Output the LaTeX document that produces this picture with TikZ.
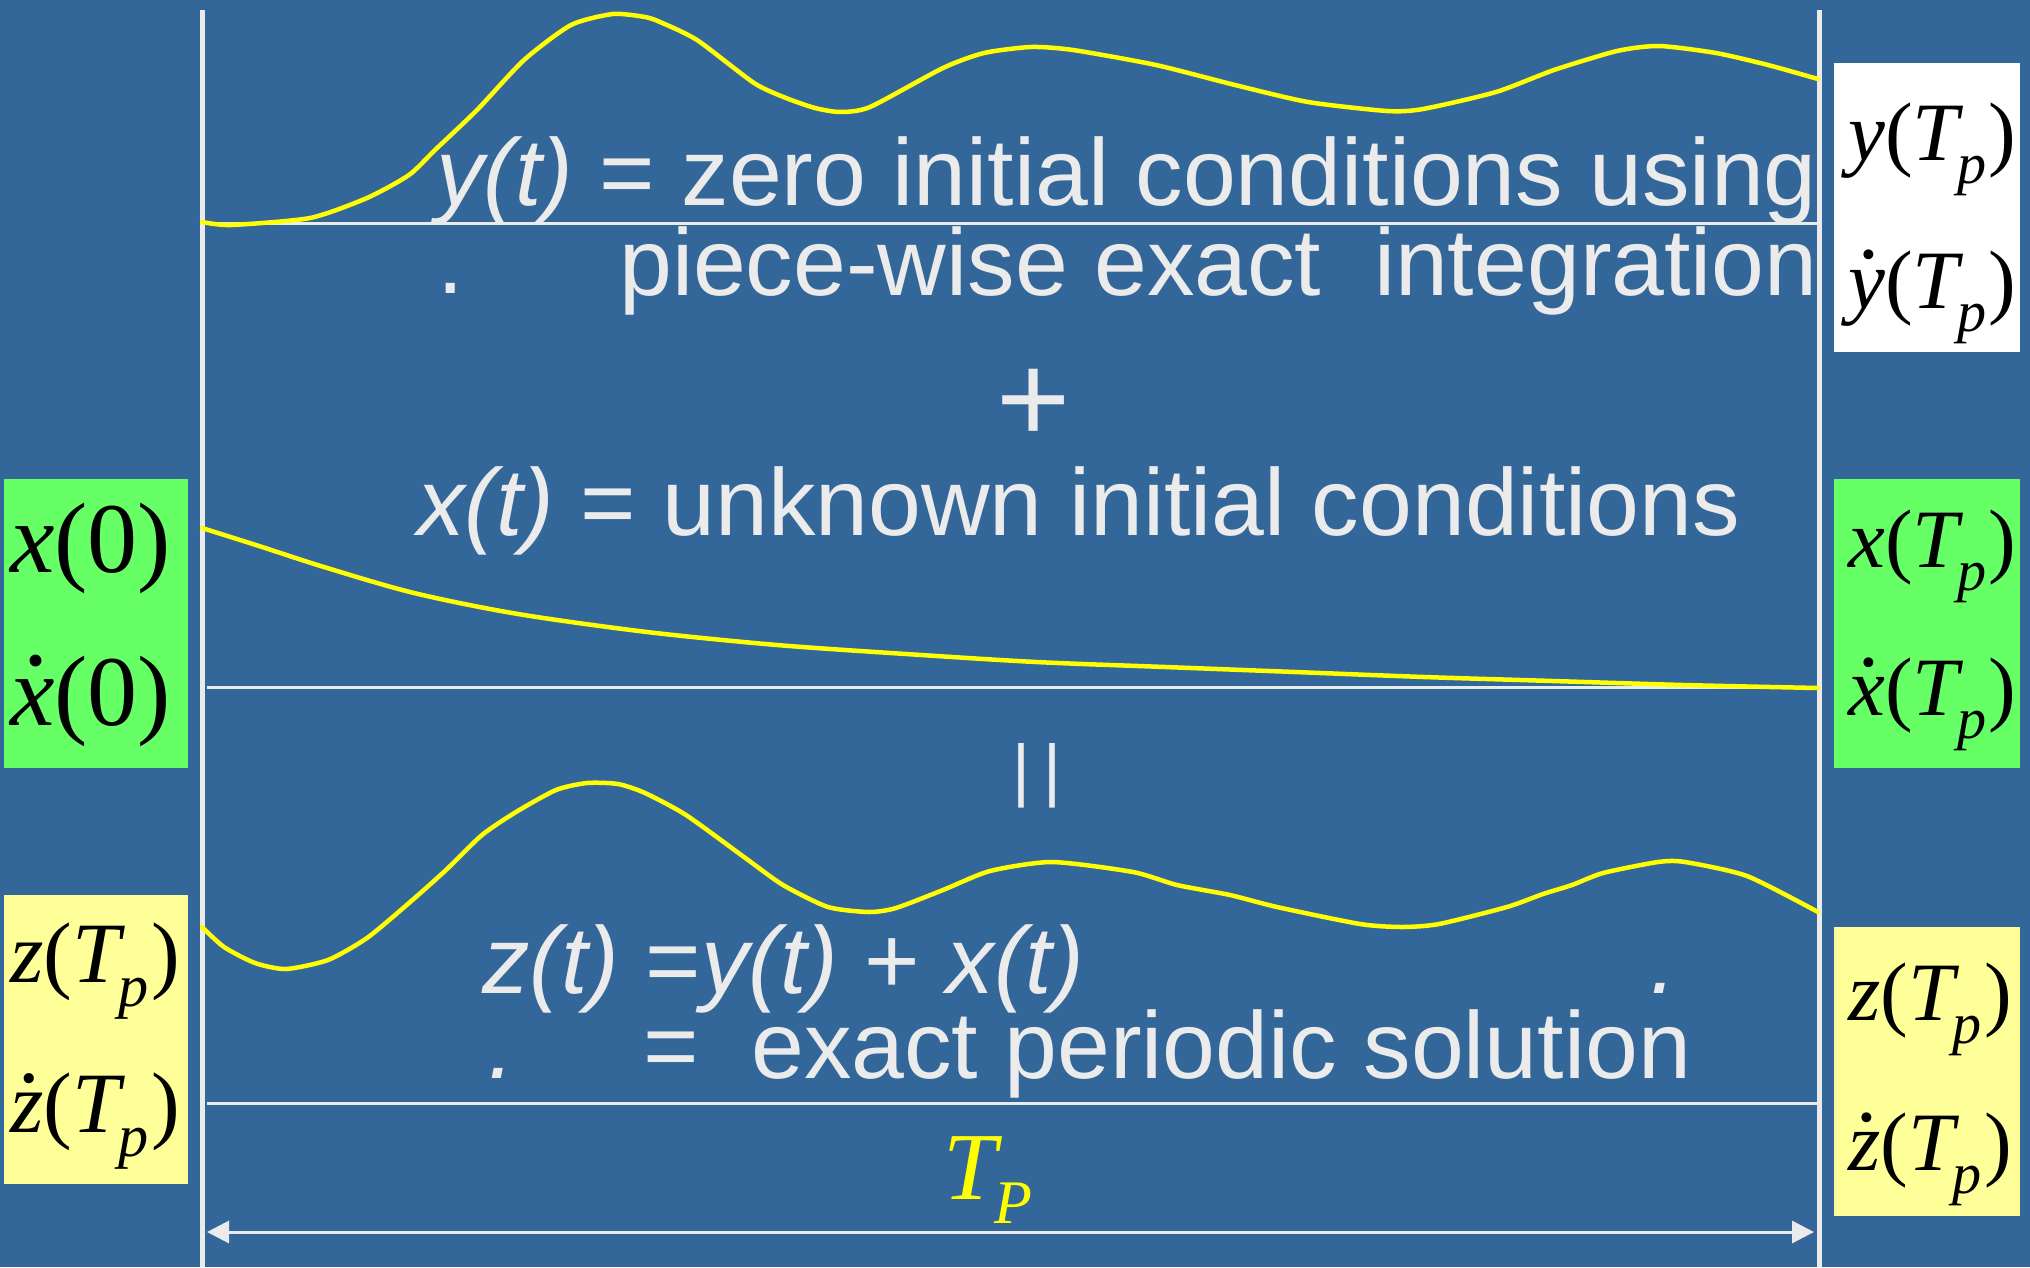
\documentclass[tikz,border=0pt]{standalone}
\usepackage{fontspec}
\usepackage{graphicx}
\setmainfont{Liberation Serif}
\newfontfamily\ars{Liberation Sans}
\usetikzlibrary{arrows.meta}
\definecolor{bg}{RGB}{52,103,153}
\definecolor{txt}{RGB}{235,235,235}
\definecolor{grn}{RGB}{102,255,102}
\definecolor{ylw}{RGB}{255,255,153}
\definecolor{crv}{RGB}{255,255,0}
% dot accent: #1 raise, #2 shift, #3 letter
\newcommand\dotac[3]{\leavevmode\setbox0\hbox{#3}\rlap{\hbox to\wd0{\hss\hspace{#2}\raisebox{#1}{\upshape .}\hss}}\box0}
\newcommand\Tp{\textit{T}\kern-0.08em\raisebox{-0.28em}{\scalebox{0.7}{\textit{p}}}\kern0.03em}
\begin{document}
\begin{tikzpicture}[x=1pt,y=-1pt,
  sans/.style={text=txt, font=\ars\fontsize{95}{95}\selectfont, inner sep=0pt, anchor=base west},
  lab/.style={text=black, inner sep=0pt, anchor=base west, font=\fontsize{86}{86}\selectfont},
  labr/.style={lab, font=\fontsize{83}{83}\selectfont},
  labbig/.style={lab, font=\fontsize{100}{100}\selectfont},
  curve/.style={crv, line width=4.5pt, line join=round, line cap=round},
  rule/.style={txt, line width=3pt},
  vrule/.style={txt, line width=5pt}]
\fill[bg] (0,0) rectangle (2030,1267);
\useasboundingbox (0,0) rectangle (2030,1267);
% boxes
\fill[white] (1834,63) rectangle (2020,352);
\fill[grn] (4,479) rectangle (188,768);
\fill[grn] (1834,479) rectangle (2020,768);
\fill[ylw] (4,895) rectangle (188,1184);
\fill[ylw] (1834,927) rectangle (2020,1216);
% frame lines
\draw[vrule] (202,10) -- (202,1267);
\draw[vrule] (1819,10) -- (1819,1267);
\draw[rule] (202,223) -- (1819,223);
\draw[rule] (207,687) -- (1819,687);
\draw[rule] (207,1103) -- (1819,1103);
% curves
\draw[curve] plot[smooth, tension=0.4] coordinates {(202,222) (231,225) (310,218) (367,198) (409,175) (435,150) (477,110) (524,60) (571,25) (613,14) (645,17) (660,22) (697,40) (754,83) (786,98) (815,108) (840,112) (870,107) (943,68) (984,53) (1031,47) (1073,50) (1156,65) (1235,85) (1308,102) (1387,111) (1423,109) (1496,92) (1554,70) (1617,51) (1659,46) (1716,53) (1768,65) (1818,79)};
\draw[curve] plot[smooth, tension=0.5] coordinates {(202,528) (259,546) (324,567) (414,593) (518,614) (647,632) (777,645) (906,654) (1036,662) (1165,667) (1295,672) (1424,677) (1553,681) (1683,685) (1818,688)};
\draw[curve] plot[smooth, tension=0.4] coordinates {(202,927) (224,947) (255,963) (286,969) (328,960) (367,938) (409,903) (446,870) (482,835) (516,812) (556,790) (587,783) (618,784) (645,793) (686,815) (744,857) (783,885) (828,907) (869,912) (896,908) (943,890) (990,871) (1052,862) (1133,872) (1177,885) (1230,895) (1277,907) (1360,924) (1402,927) (1439,924) (1507,907) (1543,894) (1572,885) (1603,873) (1658,862) (1685,862) (1747,876) (1818,912)};
% main texts
\node[sans] (yt) at (436,205) {{\itshape y(t)} = zero initial conditions using};
\node[sans] (d1) at (437,293) {.};
\node[sans] (pw) at (619,295) {piece-wise exact\ \ integration};
\node[sans, font=\ars\fontsize{127}{127}\selectfont, anchor=base] (plus) at (1034,442) {+};
\node[sans] (xt) at (417,535) {{\itshape x(t)} = unknown initial conditions};
\node[sans, font=\ars\fontsize{69}{69}\selectfont, anchor=base] (eq) at (1037,793) {|\hspace{0.2em}|};
\node[sans] (zt) at (482,993) {{\itshape z(t)} ={\itshape y(t)} + {\itshape x(t)}};
\node[sans] (d2) at (1650,993) {\itshape .};
\node[sans] (d3) at (488,1078) {\itshape .};
\node[sans] (eq2) at (643,1078) {=};
\node[sans] (ps) at (751,1078) {exact periodic solution};
% period label
\node[inner sep=0pt, anchor=base west, text=crv, font=\fontsize{96}{96}\selectfont] (tp) at (943,1199) {\textit{T}\kern-0.08em\raisebox{-24pt}{\fontsize{62}{62}\selectfont\textit{P}}};
\coordinate (al) at (207,1232);
\coordinate (ar) at (1814,1232);
\draw[txt, line width=3pt, {Triangle[length=22pt,width=22pt]}-{Triangle[length=22pt,width=22pt]}] (al) -- (ar);
% box labels
\node[labbig] (x0) at (10,572) {\textit{x}(0)};
\node[labbig] (xd0) at (10,725) {\dotac{0.6em}{0.08em}{\textit{x}}(0)};
\node[lab] (zl) at (10,982) {\textit{z}(\Tp)};
\node[lab] (zdl) at (10,1132) {\dotac{0.58em}{0.06em}{\textit{z}}(\Tp)};
\node[labr] (yr) at (1848,160) {\textit{y}(\Tp)};
\node[labr] (ydr) at (1848,308) {\dotac{0.6em}{0.06em}{\textit{y}}(\Tp)};
\node[labr] (xr) at (1848,567) {\textit{x}(\Tp)};
\node[labr] (xdr) at (1848,715) {\dotac{0.58em}{0.06em}{\textit{x}}(\Tp)};
\node[labr] (zr) at (1848,1020) {\textit{z}(\Tp)};
\node[labr] (zdr) at (1848,1170) {\dotac{0.58em}{0.06em}{\textit{z}}(\Tp)};
\end{tikzpicture}
\end{document}
